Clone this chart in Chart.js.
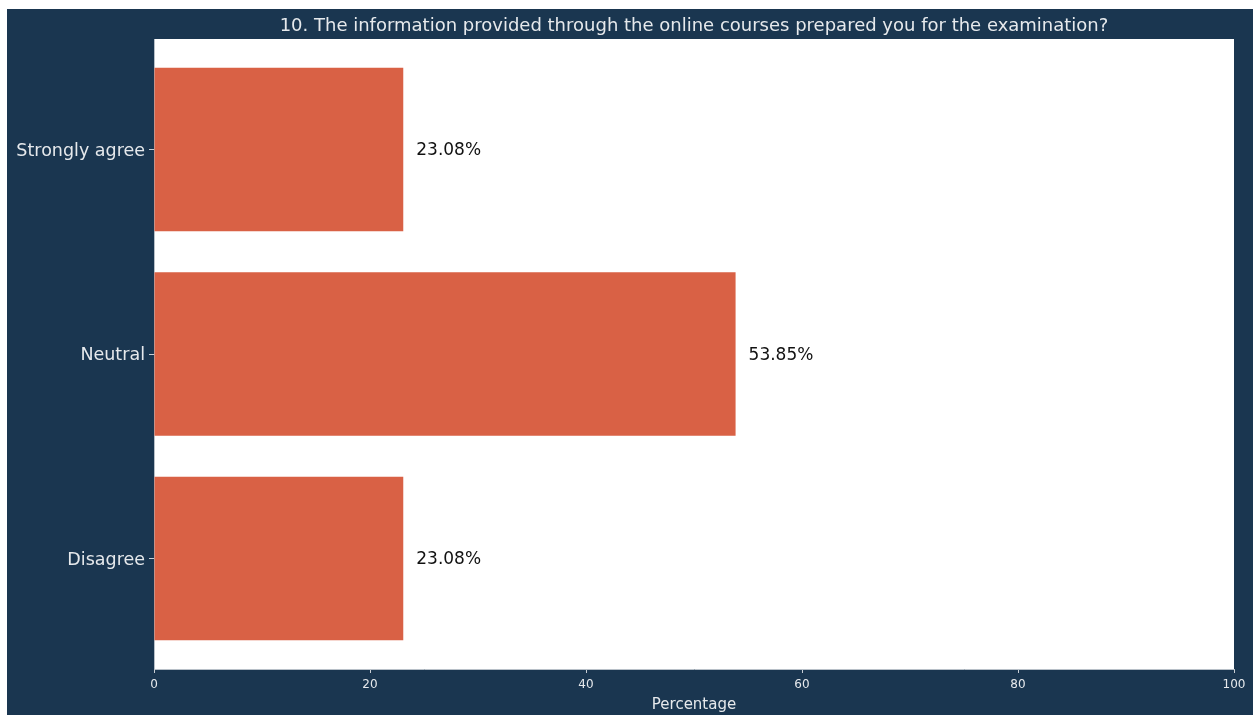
<!DOCTYPE html>
<html lang="en">
<head>
  <meta charset="UTF-8" />
  <title>Online courses survey</title>
  <script src="https://cdn.jsdelivr.net/npm/chart.js"></script>
  <style>
    html, body {
      margin: 0;
      padding: 0;
      background-color: #ffffff;
      overflow: hidden;
    }
    .wrap {
      position: absolute;
      left: 7px;
      top: 9px;
      width: 1246px;
      height: 706px;
    }
  </style>
</head>
<body>
  <div class="wrap">
    <canvas id="surveyChart" width="1246" height="706"></canvas>
  </div>

  <script>
    // categories from bottom to top, like the picture
    const categories = ["Disagree", "Neutral", "Strongly agree"];
    const percentages = [23.08, 53.85, 23.08];
    const xTicks = [0, 20, 40, 60, 80, 100];

    const NAVY = "#1a3650";
    const BAR = "#d96145";
    const LIGHT = "#e6e9ec";

    const backgroundPlugin = {
      id: "backgrounds",
      beforeDraw(chart) {
        const { ctx, chartArea } = chart;
        ctx.save();
        ctx.fillStyle = NAVY;
        ctx.fillRect(0, 0, chart.width, chart.height);
        ctx.fillStyle = "#ffffff";
        ctx.fillRect(chartArea.left, chartArea.top, chartArea.right - chartArea.left, chartArea.bottom - chartArea.top);
        ctx.restore();
      }
    };

    const valueLabels = {
      id: "valueLabels",
      afterDatasetsDraw(chart) {
        const { ctx } = chart;
        const meta = chart.getDatasetMeta(0);
        ctx.save();
        ctx.fillStyle = "#111111";
        ctx.font = "17px 'DejaVu Sans'";
        ctx.textAlign = "left";
        ctx.textBaseline = "middle";
        meta.data.forEach((bar, i) => {
          ctx.fillText(percentages[i].toFixed(2) + "%", bar.x + 13, bar.y + 1.5);
        });
        ctx.restore();
      }
    };

    new Chart(document.getElementById("surveyChart"), {
      type: "bar",
      data: {
        datasets: [{
          data: percentages.map((v, i) => ({ x: v, y: i })),
          backgroundColor: BAR,
          borderWidth: 0,
          barPercentage: 0.8,
          categoryPercentage: 1
        }]
      },
      options: {
        indexAxis: "y",
        responsive: false,
        animation: false,
        events: [],
        layout: { padding: { top: 0, right: 19, left: 0, bottom: 0 } },
        plugins: {
          legend: { display: false },
          tooltip: { enabled: false },
          title: {
            display: true,
            fullSize: false,
            text: "10. The information provided through the online courses prepared you for the examination?",
            color: LIGHT,
            font: { family: "DejaVu Sans", size: 18, weight: "normal", lineHeight: 1.2 },
            padding: { top: 7, bottom: 1.4 }
          }
        },
        scales: {
          x: {
            type: "linear",
            min: 0,
            max: 100,
            afterBuildTicks: axis => { axis.ticks = xTicks.map(v => ({ value: v })); },
            afterFit: axis => { axis.height = 46; },
            grid: { drawOnChartArea: false, drawTicks: true, tickLength: 4, color: "#c8ced4" },
            border: { display: true, color: "#b8c0c8", width: 1 },
            ticks: {
              color: LIGHT,
              font: { family: "DejaVu Sans", size: 12 },
              padding: 5,
              maxRotation: 0
            },
            title: {
              display: true,
              text: "Percentage",
              color: LIGHT,
              font: { family: "DejaVu Sans", size: 15 },
              padding: { top: 0, bottom: 1 }
            }
          },
          y: {
            type: "linear",
            min: -0.54,
            max: 2.54,
            offset: false,
            afterFit: axis => { axis.width = 147; },
            grid: { offset: false, drawOnChartArea: false, drawTicks: true, tickLength: 5, color: "#c8ced4" },
            border: { display: true, color: "#b8c0c8", width: 1 },
            ticks: {
              stepSize: 1,
              includeBounds: false,
              autoSkip: false,
              color: LIGHT,
              font: { family: "DejaVu Sans", size: 17.5 },
              padding: 4,
              labelOffset: 1.5,
              callback: v => categories[v] ?? ""
            }
          }
        }
      },
      plugins: [backgroundPlugin, valueLabels]
    });
  </script>
</body>
</html>
